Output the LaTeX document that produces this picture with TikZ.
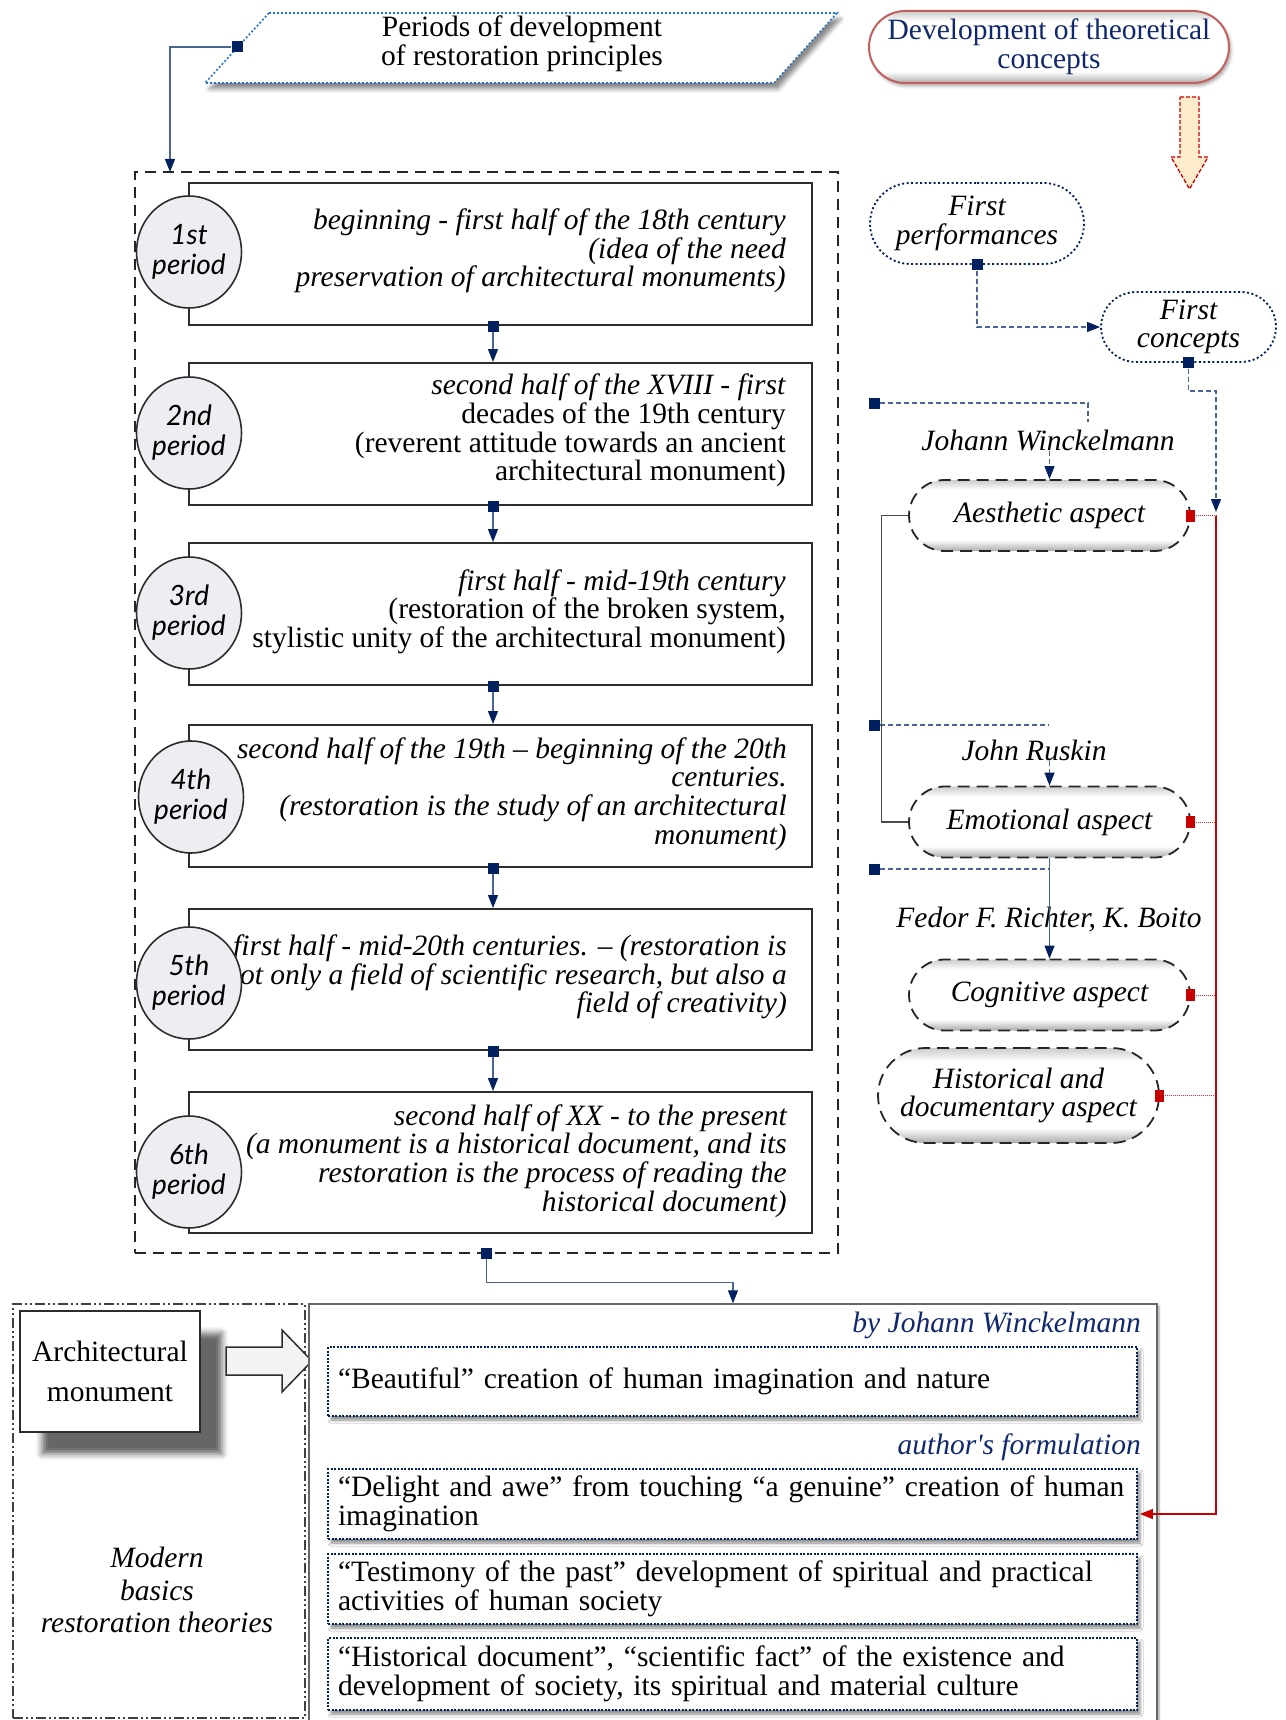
\documentclass[tikz,border=0pt]{standalone}
\usepackage{fontspec}
\setmainfont{Liberation Serif}
\newfontfamily\handfont{Lato}
\usetikzlibrary{shapes.geometric,shapes.misc,arrows.meta,shadows.blur,calc}
\definecolor{navy}{RGB}{0,32,96}
\definecolor{steel}{RGB}{75,100,150}
\definecolor{pblue}{RGB}{40,115,195}
\definecolor{tnavy}{RGB}{16,40,110}
\definecolor{dred}{RGB}{200,0,0}
\definecolor{rose}{RGB}{195,95,95}
\definecolor{cfill}{RGB}{237,238,241}
\definecolor{ayel}{RGB}{253,236,204}
\definecolor{edge}{RGB}{45,45,45}
\pgfdeclareverticalshading{pillshade}{100bp}{color(0bp)=(gray!65); color(25bp)=(gray!65); color(33bp)=(white); color(68bp)=(white); color(75bp)=(gray!40); color(100bp)=(gray!40)}
\begin{document}
\begin{tikzpicture}[x=1pt,y=-1pt,
  fnt/.style={font=\fontsize{29.5}{28.7}\selectfont},
  txt/.style={fnt, inner sep=0pt},
  itx/.style={txt, font=\fontsize{29.5}{28.7}\selectfont\itshape},
  pbox/.style={draw=edge, line width=2pt, fill=white, minimum width=623pt, minimum height=142pt, inner sep=0pt},
  circ/.style={ellipse, draw=edge, line width=1.6pt, fill=cfill, minimum width=105pt, minimum height=112pt, inner sep=0pt},
  ctxt/.style={inner sep=0pt, align=center, font=\handfont\itshape\fontsize{28}{30}\selectfont},
  mk/.style={rectangle, fill=navy, minimum size=11pt, inner sep=0pt},
  rmk/.style={rectangle, fill=dred, minimum width=9pt, minimum height=12pt, inner sep=0pt},
  conn/.style={draw=steel, line width=1.2pt, -{Triangle[length=13pt,width=10pt,color=navy]}},
  dconn/.style={conn, dash pattern=on 5pt off 3pt},
  dline/.style={draw=steel, line width=1.2pt, dash pattern=on 5pt off 3pt},
  redd/.style={draw=dred!80, line width=1pt, densely dotted},
  redl/.style={draw=dred, line width=1.2pt},
  aspect/.style={rounded rectangle, draw=black!85, line width=1.8pt, dash pattern=on 12pt off 7pt, shading=pillshade, minimum width=281pt, minimum height=71pt, inner sep=0pt, align=center, font=\fontsize{29.5}{28.7}\selectfont\itshape},
  dotpill/.style={rounded rectangle, draw=navy, line width=1.8pt, dash pattern=on 2pt off 2.5pt, fill=white, inner sep=0pt, align=center, font=\fontsize{29.5}{28.7}\selectfont\itshape},
  cbox/.style={draw=navy, line width=1.8pt, dash pattern=on 2pt off 1.5pt, fill=white, text width=789pt, inner xsep=10pt, inner ysep=0pt, align=left, fnt, blur shadow={shadow xshift=3pt, shadow yshift=-4pt, shadow blur radius=3pt, shadow opacity=45}},
]
\useasboundingbox (0,0) rectangle (1285,1720);

% ---------- title parallelogram ----------
\draw[pblue, line width=1.6pt, dash pattern=on 2pt off 2pt, fill=white,
  blur shadow={shadow xshift=4pt, shadow yshift=-6pt, shadow blur radius=4pt, shadow opacity=45}]
  (269,13) -- (837,13) -- (774,83) -- (205,83) -- cycle;
\node[txt, align=center] (ttl) at (522,44) {Periods of development\\of restoration principles};
\node[mk] (kt) at (237,47) {};

% ---------- development pill ----------
\node[rounded rectangle, draw=rose, line width=2pt, shading=pillshade,
  minimum width=360pt, minimum height=72pt, inner sep=0pt, align=center, fnt, text=tnavy,
  blur shadow={shadow xshift=2pt, shadow yshift=-3pt, shadow blur radius=3pt, shadow opacity=35}] (dev) at (1049,47)
  {Development of theoretical\\concepts};
\draw[dred, line width=1.3pt, dash pattern=on 4pt off 2pt, fill=ayel]
  (1180,97) -- (1199,97) -- (1199,157) -- (1208,157) -- (1189.5,189) -- (1171,157) -- (1180,157) -- cycle;

% ---------- periods ----------
\node[draw=black!85, line width=1.5pt, dash pattern=on 11pt off 7pt, minimum width=703pt, minimum height=1081pt, inner sep=0pt] (dbox) at (486.5,712.5) {};
\coordinate (dtop) at (170,172);
\draw[conn] (kt) -| (dtop);

\node[pbox] (b1) at (500.5,254) {};
\node[pbox] (b2) at (500.5,434) {};
\node[pbox] (b3) at (500.5,614) {};
\node[pbox] (b4) at (500.5,796) {};
\node[pbox, minimum height=141pt] (b5) at (500.5,979.5) {};
\node[pbox, minimum height=141pt] (b6) at (500.5,1162.5) {};

\node[itx, align=right, anchor=east] (t1) at (786,251) {beginning - first half of the 18th century\\(idea of the need\\preservation of architectural monuments)};
\node[txt, align=right, anchor=east] (t2) at (786,430.5) {\textit{second half of the XVIII - first}\\decades of the 19th century\\(reverent attitude towards an ancient\\architectural monument)};
\node[txt, align=right, anchor=east] (t3) at (786,611.5) {\textit{first half - mid-19th century}\\(restoration of the broken system,\\stylistic unity of the architectural monument)};
\node[itx, align=right, anchor=east] (t4) at (787,794) {second half of the 19th -- beginning of the 20th\\centuries.\\(restoration is the study of an architectural\\monument)};
\node[itx, align=right, anchor=east] (t5) at (787,977) {first half - mid-20th centuries. -- (restoration is\\not only a field of scientific research, but also a\\field of creativity)};
\node[itx, align=right, anchor=east] (t6) at (787,1161) {second half of XX - to the present\\(a monument is a historical document, and its\\restoration is the process of reading the\\historical document)};

\node[circ] (c1) at (189,252) {};
\node[circ] (c2) at (189,433) {};
\node[circ] (c3) at (189,613) {};
\node[circ] (c4) at (191,797) {};
\node[circ] (c5) at (189,983) {};
\node[circ] (c6) at (189,1172) {};
\node[ctxt] (p1) at (c1) {1st\\period};
\node[ctxt] (p2) at (c2) {2nd\\period};
\node[ctxt] (p3) at (c3) {3rd\\period};
\node[ctxt] (p4) at (c4) {4th\\period};
\node[ctxt] (p5) at (c5) {5th\\period};
\node[ctxt] (p6) at (c6) {6th\\period};

\node[mk] (k1) at ($(b1.south)+(-7.5,0)$) {};
\node[mk] (k2) at ($(b2.south)+(-7.5,0)$) {};
\node[mk] (k3) at ($(b3.south)+(-7.5,0)$) {};
\node[mk] (k4) at ($(b4.south)+(-7.5,0)$) {};
\node[mk] (k5) at ($(b5.south)+(-7.5,0)$) {};
\draw[conn] (k1) -- (k1 |- b2.north);
\draw[conn] (k2) -- (k2 |- b3.north);
\draw[conn] (k3) -- (k3 |- b4.north);
\draw[conn] (k4) -- (k4 |- b5.north);
\draw[conn] (k5) -- (k5 |- b6.north);

% ---------- right column ----------
\node[dotpill, minimum width=214pt, minimum height=81pt] (fp) at (977,223.5) {First\\performances};
\node[dotpill, minimum width=175pt, minimum height=70pt] (fc) at (1188.5,327) {First\\concepts};
\node[mk] (kfp) at (fp.south) {};
\node[mk] (kfc) at (fc.south) {};
\draw[dconn] (kfp) |- (fc.west);
\coordinate (rtop) at (1216,512);
\draw[dconn] (kfc) -- ++(0,28) -| (rtop);

\node[aspect] (aes) at (1049.5,515.5) {Aesthetic aspect};
\node[aspect] (emo) at (1049.5,822) {Emotional aspect};
\node[aspect] (cog) at (1049.5,995) {Cognitive aspect};
\node[aspect, minimum height=95pt] (his) at (1018.5,1095.5) {Historical and\\documentary aspect};

\node[mk] (kw) at (874,403) {};
\draw[dline] (kw) -- (1088,403) -- (1088,422);
\node[itx] (jw) at (1048,440) {Johann Winckelmann};
\draw[dconn] (aes.north |- jw.south) -- (aes.north);

\node[mk] (kr) at (874,725) {};
\draw[dline] (kr) -- (1048,725);
\node[itx] (jr) at (1034,750) {John Ruskin};
\draw[dconn] (emo.north |- jr.south) -- (emo.north);

\node[mk] (kf) at (874,869) {};
\draw[dline] (kf) -- (1049.5,869);
\node[itx] (fr) at (1049,920) {Fedor F. Richter, K. Boito};
\draw[conn] (emo.south) -- (cog.north);

\draw[draw=black!70, line width=1.2pt] (aes.west) -- ++(-27,0) |- (emo.west);

\node[rmk] (ra) at (aes.east) {};
\node[rmk] (re) at (emo.east) {};
\node[rmk] (rc) at (cog.east) {};
\node[rmk] (rh) at (his.east) {};
\draw[redd] (ra) -- (1216,515.5);
\draw[redd] (re) -- (1216,822);
\draw[redd] (rc) -- (1216,995);
\draw[redd] (rh) -- (1216,1095.5);

% ---------- bottom ----------
\node[draw=black!75, line width=1.3pt, dash pattern=on 10pt off 3pt on 2pt off 3pt on 2pt off 3pt, minimum width=292pt, minimum height=414pt, inner sep=0pt] (lbox) at (159,1511) {};
\node[draw=edge, line width=2.5pt, fill=white, minimum width=180pt, minimum height=121pt, inner sep=0pt, align=center,
  font=\fontsize{29.5}{40}\selectfont,
  blur shadow={shadow xshift=22pt, shadow yshift=-22pt, shadow blur radius=6pt, shadow opacity=60}] (am) at (110,1371.5) {Architectural\\monument};
\draw[edge, line width=1.5pt, fill=cfill!70]
  (226,1347) -- (282,1347) -- (282,1330) -- (312,1361) -- (282,1392) -- (282,1375) -- (226,1375) -- cycle;
\node[itx, align=center, font=\fontsize{29.5}{32.5}\selectfont\itshape] (mb) at (157,1590) {Modern\\basics\\restoration theories};

\node[draw=gray!80!black, fill=white, line width=1.5pt, minimum width=848pt, minimum height=420pt, inner sep=0pt,
  blur shadow={shadow xshift=2pt, shadow yshift=-2pt, shadow blur radius=2pt, shadow opacity=40}] (big) at (733,1514) {};
\node[mk] (kb) at (dbox.south) {};
\draw[conn] (kb) -- ++(0,29) -| (big.north);

\node[itx, anchor=east, text=tnavy] (byw) at (1141,1325) {by Johann Winckelmann};
\node[cbox, minimum height=69pt] (bx1) at (732.5,1381.5) {“Beautiful” creation of human imagination and nature};
\node[itx, anchor=east, text=tnavy] (auf) at (1141,1447) {author\textquotesingle s formulation};
\node[cbox, minimum height=70pt] (bx2) at (732.5,1504) {“Delight and awe” from touching “a genuine” creation of human\\imagination};
\node[cbox, minimum height=70pt] (bx3) at (732.5,1589) {“Testimony of the past” development of spiritual and practical\\activities of human society};
\node[cbox, minimum height=72pt] (bx4) at (732.5,1674) {“Historical document”, “scientific fact” of the existence and\\development of society, its spiritual and material culture};

\draw[redl, -{Triangle[length=13pt,width=10pt]}] (1216,515.5) -- (1216,1514) -- ($(bx2.east)+(2,10)$);
\end{tikzpicture}
\end{document}
